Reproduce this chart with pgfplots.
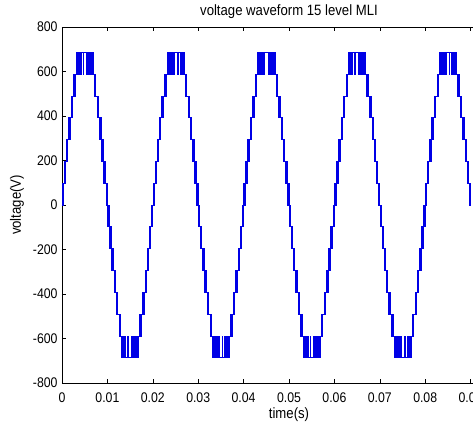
\documentclass[border=0pt]{standalone}
\usepackage{pgfplots}
\pgfplotsset{compat=1.18}
\usepackage{pgfplotstable}
\usepackage{fontspec}
\setmainfont{Liberation Sans}
\newfontfamily\mfont[FakeStretch=0.88]{Liberation Sans}
\usetikzlibrary{calc}
\definecolor{wave}{RGB}{0,0,230}

% one period of the inverter output, t in ms, v in volts
\pgfplotstableread{
t v
0.00 0
0.02 98
0.08 0
0.18 98
0.28 0
0.34 98
0.47 196
0.53 98
0.63 196
0.73 98
0.79 196
0.93 294
1.00 196
1.09 294
1.19 196
1.25 294
1.42 392
1.48 294
1.58 392
1.68 294
1.74 392
1.95 490
2.01 392
2.11 490
2.21 392
2.27 490
2.57 588
2.63 490
2.73 588
2.83 490
2.89 588
3.12 686
3.18 588
3.28 686
3.34 588
3.44 686
3.54 588
3.60 686
3.75 588
3.80 686
4.00 588
4.04 686
4.30 588
4.34 686
4.62 588
4.65 686
5.35 588
5.38 686
5.66 588
5.70 686
5.96 588
6.00 686
6.20 588
6.25 686
6.40 588
6.46 686
6.56 588
6.66 686
6.72 588
6.82 686
6.88 588
7.11 490
7.17 588
7.27 490
7.37 588
7.43 490
7.73 392
7.79 490
7.89 392
7.99 490
8.05 392
8.26 294
8.32 392
8.42 294
8.52 392
8.58 294
8.75 196
8.81 294
8.91 196
9.00 294
9.07 196
9.21 98
9.27 196
9.37 98
9.47 196
9.53 98
9.66 0
9.72 98
9.82 0
9.92 98
9.98 0
10.02 -98
10.08 0
10.18 -98
10.28 0
10.34 -98
10.47 -196
10.53 -98
10.63 -196
10.73 -98
10.79 -196
10.93 -294
11.00 -196
11.09 -294
11.19 -196
11.25 -294
11.42 -392
11.48 -294
11.58 -392
11.68 -294
11.74 -392
11.95 -490
12.01 -392
12.11 -490
12.21 -392
12.27 -490
12.57 -588
12.63 -490
12.73 -588
12.83 -490
12.89 -588
13.12 -686
13.18 -588
13.28 -686
13.34 -588
13.44 -686
13.54 -588
13.60 -686
13.75 -588
13.80 -686
14.00 -588
14.04 -686
14.30 -588
14.34 -686
14.62 -588
14.65 -686
15.35 -588
15.38 -686
15.66 -588
15.70 -686
15.96 -588
16.00 -686
16.20 -588
16.25 -686
16.40 -588
16.46 -686
16.56 -588
16.66 -686
16.72 -588
16.82 -686
16.88 -588
17.11 -490
17.17 -588
17.27 -490
17.37 -588
17.43 -490
17.73 -392
17.79 -490
17.89 -392
17.99 -490
18.05 -392
18.26 -294
18.32 -392
18.42 -294
18.52 -392
18.58 -294
18.75 -196
18.81 -294
18.91 -196
19.00 -294
19.07 -196
19.21 -98
19.27 -196
19.37 -98
19.47 -196
19.53 -98
19.66 0
19.72 -98
19.82 0
19.92 -98
19.98 0
20.00 0
}\wave

\begin{document}
\begin{tikzpicture}
\begin{axis}[
    name=ax,
    scale only axis,
    width=454bp, height=356bp,
    xmin=0, xmax=0.1,
    ymin=-800, ymax=800,
    scaled x ticks=false,
    xtick={0,0.01,0.02,0.03,0.04,0.05,0.06,0.07,0.08,0.09,0.1},
    xticklabels={0,0.01,0.02,0.03,0.04,0.05,0.06,0.07,0.08,0.09,0.1},
    ytick={-800,-600,-400,-200,0,200,400,600,800},
    yticklabels={-800,-600,-400,-200,0,200,400,600,800},
    tick align=inside,
    major tick length=4bp,
    tick style={black, line width=0.5pt},
    axis line style={line width=0.6pt},
    tick label style={font=\mfont\fontsize{14}{16}\selectfont},
    xticklabel style={anchor=center, yshift=-15bp},
    yticklabel style={xshift=-1bp},
    label style={font=\mfont\fontsize{15}{17}\selectfont},
    xlabel style={at={(rel axis cs:0.5,0)}, anchor=center, yshift=-32bp},
    ylabel style={at={(rel axis cs:0,0.5)}, anchor=center, yshift=45bp},
    title style={font=\mfont\fontsize{15}{17}\selectfont, at={(rel axis cs:0.5,1)}, anchor=base, yshift=6bp},
    xlabel={time(s)},
    ylabel={voltage(V)},
    title={voltage waveform 15 level MLI},
]
\addplot[wave, line width=0.65pt, const plot, no marks] table[x expr=\thisrow{t}/1000, y=v] {\wave};
\addplot[wave, line width=0.65pt, const plot, no marks] table[x expr=\thisrow{t}/1000+0.02, y=v] {\wave};
\addplot[wave, line width=0.65pt, const plot, no marks] table[x expr=\thisrow{t}/1000+0.04, y=v] {\wave};
\addplot[wave, line width=0.65pt, const plot, no marks] table[x expr=\thisrow{t}/1000+0.06, y=v] {\wave};
\addplot[wave, line width=0.65pt, const plot, no marks, restrict x to domain=0.08:0.09] table[x expr=\thisrow{t}/1000+0.08, y=v] {\wave};
\end{axis}
\pgfresetboundingbox
\path[use as bounding box] ($(ax.south west)+(-62bp,-40bp)$) rectangle ($(ax.south west)+(411bp,383bp)$);
\end{tikzpicture}
\end{document}
